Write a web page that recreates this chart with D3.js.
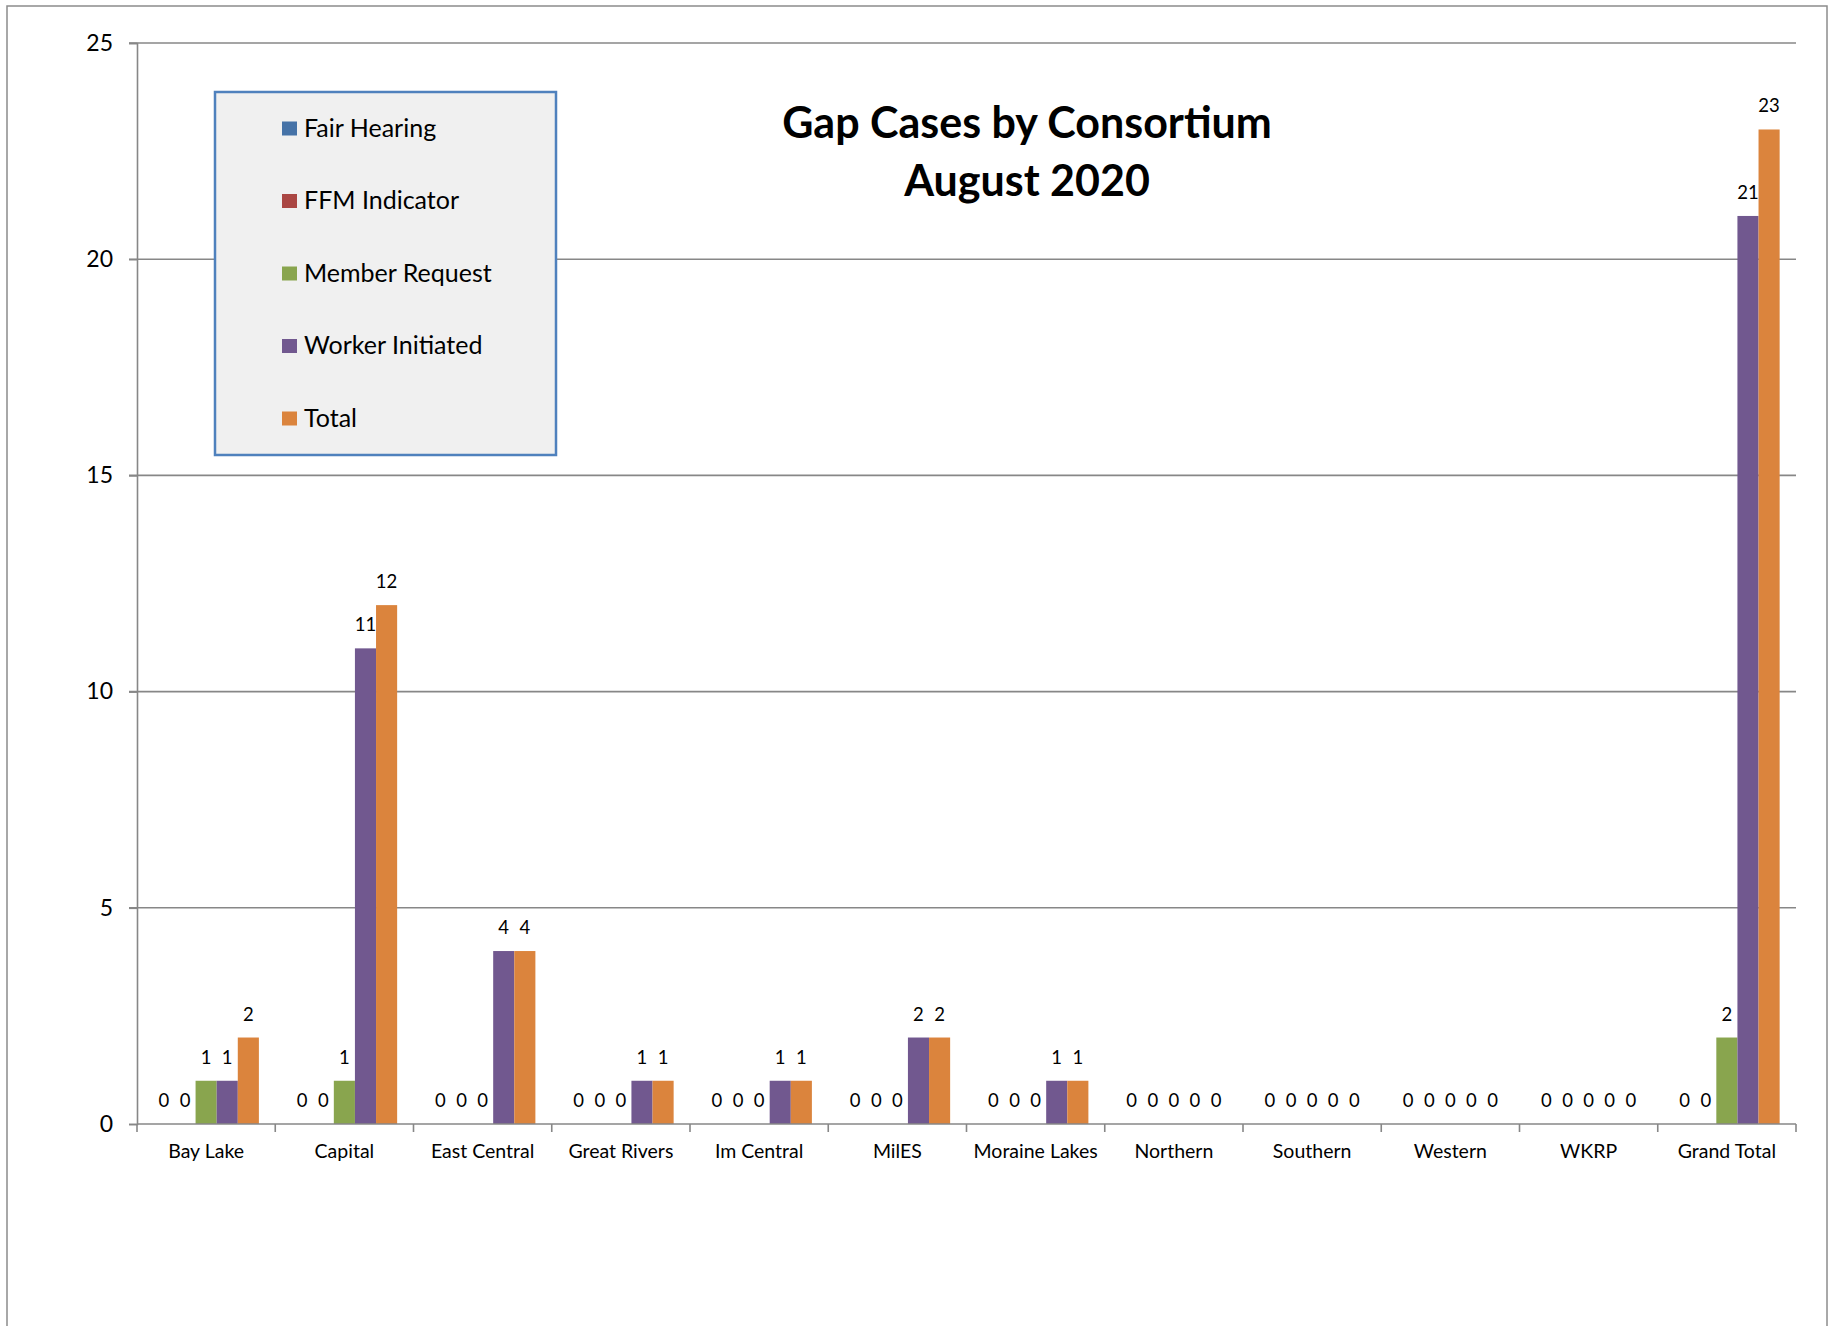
<!DOCTYPE html>
<html>
<head>
<meta charset="utf-8">
<script src="https://cdn.jsdelivr.net/npm/d3@7"></script>
<style>
	html, body { margin: 0; padding: 0; background: #ffffff; }
	svg { display: block; font-family: Lato, 'Open Sans', sans-serif; }
</style>
</head>
<body>
<div class="chart-container"></div>
<script>
// Chart data
const categories = ['Bay Lake', 'Capital', 'East Central', 'Great Rivers', 'Im Central', 'MilES',
	'Moraine Lakes', 'Northern', 'Southern', 'Western', 'WKRP', 'Grand Total'];
const seriesNames = ['Fair Hearing', 'FFM Indicator', 'Member Request', 'Worker Initiated', 'Total'];
const fairHearing = [0, 0, 0, 0, 0, 0, 0, 0, 0, 0, 0, 0];
const ffmIndicator = [0, 0, 0, 0, 0, 0, 0, 0, 0, 0, 0, 0];
const memberRequest = [1, 1, 0, 0, 0, 0, 0, 0, 0, 0, 0, 2];
const workerInitiated = [1, 11, 4, 1, 1, 2, 1, 0, 0, 0, 0, 21];
const totals = [2, 12, 4, 1, 1, 2, 1, 0, 0, 0, 0, 23];
const yTicks = [0, 5, 10, 15, 20, 25];
const titleLines = ['Gap Cases by Consortium', 'August 2020'];

(function() {
	'use strict';

	const width = 1834;
	const height = 1326;
	const colors = ['#4572A7', '#AA4643', '#89A54E', '#71588F', '#DB843D'];
	const seriesValues = [fairHearing, ffmIndicator, memberRequest, workerInitiated, totals];

	// Plot area
	const left = 137;
	const right = 1796;
	const top = 43;
	const bottom = 1124;

	const svg = d3.select('.chart-container')
		.append('svg')
		.attr('width', width)
		.attr('height', height)
		.attr('viewBox', [0, 0, width, height]);

	// Outer chart frame
	svg.append('rect')
		.attr('x', 7)
		.attr('y', 6)
		.attr('width', 1820)
		.attr('height', 1360)
		.attr('fill', '#ffffff')
		.attr('stroke', '#8c8c8c')
		.attr('stroke-width', 1.5);

	// Scales
	const x0 = d3.scaleBand()
		.domain(categories)
		.range([left, right])
		.paddingInner(0)
		.paddingOuter(0);

	const x1 = d3.scaleBand()
		.domain(seriesNames)
		.range([0, x0.bandwidth()])
		.paddingInner(0)
		.paddingOuter(0.775);

	const y = d3.scaleLinear()
		.domain([0, 25])
		.range([bottom, top]);

	// Gridlines + left ticks
	svg.append('g')
		.selectAll('line')
		.data(yTicks.filter(d => d > 0))
		.join('line')
		.attr('x1', left - 8)
		.attr('x2', right)
		.attr('y1', d => y(d))
		.attr('y2', d => y(d))
		.attr('stroke', '#878787')
		.attr('stroke-width', 1.6);

	// Y axis
	const yAxis = svg.append('g')
		.attr('transform', `translate(${left},0)`)
		.call(d3.axisLeft(y).tickValues(yTicks).tickSize(8).tickPadding(16));
	yAxis.select('.domain').attr('stroke', '#878787').attr('stroke-width', 1.6);
	yAxis.selectAll('.tick line').attr('stroke', '#878787').attr('stroke-width', 1.6);
	yAxis.selectAll('.tick text')
		.attr('fill', '#000')
		.style('font-family', 'Lato, sans-serif')
		.style('font-size', '23px');

	// Title
	svg.append('g')
		.selectAll('text')
		.data(titleLines)
		.join('text')
		.attr('x', 1027)
		.attr('y', (d, i) => 138 + i * 58)
		.attr('text-anchor', 'middle')
		.style('font-size', '43px')
		.style('font-weight', 'bold')
		.attr('fill', '#000')
		.text(d => d);

	// Bars
	const groups = svg.append('g')
		.selectAll('g')
		.data(categories)
		.join('g')
		.attr('transform', d => `translate(${x0(d)},0)`);

	groups.selectAll('rect')
		.data((d, i) => seriesNames.map((s, j) => ({ series: s, value: seriesValues[j][i], color: colors[j] })))
		.join('rect')
		.attr('x', d => x1(d.series))
		.attr('width', x1.bandwidth())
		.attr('y', d => y(d.value))
		.attr('height', d => y(0) - y(d.value))
		.attr('fill', d => d.color);

	// Data labels
	groups.selectAll('text')
		.data((d, i) => seriesNames.map((s, j) => ({ series: s, value: seriesValues[j][i] })))
		.join('text')
		.attr('x', d => x1(d.series) + x1.bandwidth() / 2)
		.attr('y', d => y(d.value) - 17)
		.attr('text-anchor', 'middle')
		.style('font-size', '18.5px')
		.attr('fill', '#000')
		.text(d => d.value);

	// X axis
	svg.append('line')
		.attr('x1', left)
		.attr('x2', right)
		.attr('y1', bottom)
		.attr('y2', bottom)
		.attr('stroke', '#878787')
		.attr('stroke-width', 1.6);

	const boundaries = categories.map(c => x0(c)).concat([right]);
	svg.append('g')
		.selectAll('line')
		.data(boundaries)
		.join('line')
		.attr('x1', d => d)
		.attr('x2', d => d)
		.attr('y1', bottom)
		.attr('y2', bottom + 8)
		.attr('stroke', '#878787')
		.attr('stroke-width', 1.6);

	svg.append('g')
		.selectAll('text')
		.data(categories)
		.join('text')
		.attr('x', d => x0(d) + x0.bandwidth() / 2)
		.attr('y', 1158)
		.attr('text-anchor', 'middle')
		.style('font-size', '19.5px')
		.attr('fill', '#000')
		.text(d => d);

	// Legend
	const legend = svg.append('g');
	legend.append('rect')
		.attr('x', 215)
		.attr('y', 92)
		.attr('width', 341)
		.attr('height', 363)
		.attr('fill', '#f0f0f0')
		.attr('stroke', '#4F81BD')
		.attr('stroke-width', 2.5);

	const items = legend.selectAll('g')
		.data(seriesNames)
		.join('g')
		.attr('transform', (d, i) => `translate(282,${128.5 + i * 72.5})`);

	items.append('rect')
		.attr('x', 0)
		.attr('y', -7)
		.attr('width', 15)
		.attr('height', 14)
		.attr('fill', (d, i) => colors[i]);

	items.append('text')
		.attr('x', 22)
		.attr('y', 8)
		.style('font-size', '25px')
		.attr('fill', '#000')
		.text(d => d);
})();
</script>
</body>
</html>
